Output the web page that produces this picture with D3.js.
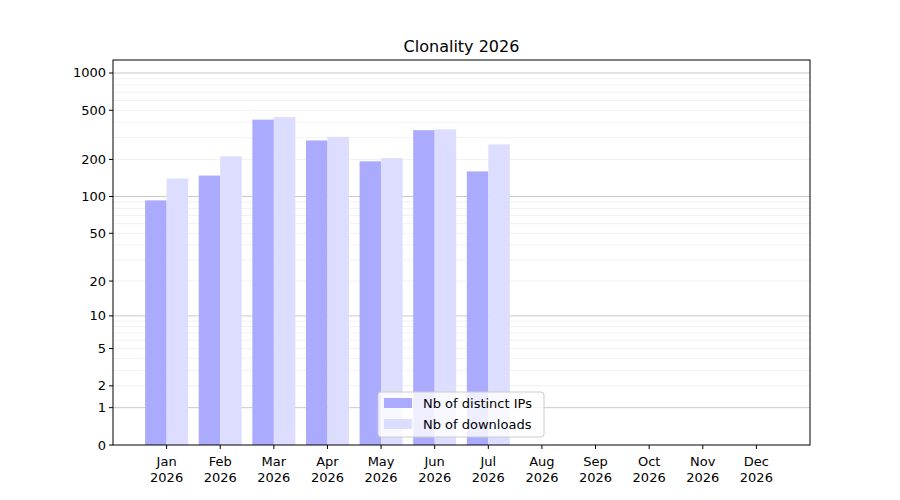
<!DOCTYPE html><html><head><meta charset="utf-8"><script src="https://cdn.jsdelivr.net/npm/d3@7"></script>
<style>body{margin:0;background:#fff}text{font-family:"DejaVu Sans",sans-serif}</style></head><body><svg id="c" width="900" height="500"></svg>
<script>
const months=["Jan","Feb","Mar","Apr","May","Jun","Jul","Aug","Sep","Oct","Nov","Dec"];
const year="2026";
const ips=[93,148,420,285,193,345,160];
const downloads=[140,212,440,305,205,350,265];
const yTicks=[0,1,2,5,10,20,50,100,200,500,1000];
const svg=d3.select("#c");
const L=113,R=810,T=60,B=445;
const x=d3.scaleLinear().domain([-1,12]).range([L,R]);
const f=v=>Math.log10(v+1);
const ys=d3.scaleLinear().domain([0,f(1273)]).range([B,T]);
const y=v=>ys(f(v));
// grid
const minor=[];for(let d=1;d<=1000;d*=10)for(let k=1;k<10;k++){const v=d*k;if(v<=1273)minor.push(v);}
const g=svg.append("g");
minor.forEach(v=>g.append("line").attr("x1",L).attr("x2",R).attr("y1",y(v)).attr("y2",y(v)).attr("stroke",[1,10,100,1000].includes(v)?"#bbb":"#eee").attr("stroke-width",0.8));
const bw=21.5;
svg.append("g").selectAll("rect").data(ips).join("rect").attr("x",(d,i)=>x(i)-bw).attr("width",bw).attr("y",d=>y(d)).attr("height",d=>B-y(d)).attr("fill","#aaaaff");
svg.append("g").selectAll("rect").data(downloads).join("rect").attr("x",(d,i)=>x(i)).attr("width",bw).attr("y",d=>y(d)).attr("height",d=>B-y(d)).attr("fill","#ddddff");
svg.append("rect").attr("x",L).attr("y",T).attr("width",R-L).attr("height",B-T).attr("fill","none").attr("stroke","#000").attr("stroke-width",1);
// y ticks
yTicks.forEach(v=>{const yy=y(v);svg.append("line").attr("x1",L-4).attr("x2",L).attr("y1",yy).attr("y2",yy).attr("stroke","#000");
svg.append("text").attr("x",L-7).attr("y",yy+4.5).attr("text-anchor","end").attr("font-size",13).text(v);});
months.forEach((m,i)=>{const xx=x(i);svg.append("line").attr("x1",xx).attr("x2",xx).attr("y1",B).attr("y2",B+4).attr("stroke","#000");
svg.append("text").attr("x",xx).attr("y",466).attr("text-anchor","middle").attr("font-size",13).text(m);
svg.append("text").attr("x",xx).attr("y",482).attr("text-anchor","middle").attr("font-size",13).text(year);});
svg.append("text").attr("x",(L+R)/2).attr("y",52).attr("text-anchor","middle").attr("font-size",16).text("Clonality 2026");
// legend
const lg=svg.append("g");
lg.append("rect").attr("x",378).attr("y",392).attr("width",166).attr("height",45).attr("rx",3).attr("fill","#fff").attr("fill-opacity",0.8).attr("stroke","#ccc");
[["Nb of distinct IPs","#aaaaff"],["Nb of downloads","#ddddff"]].forEach((d,i)=>{
lg.append("rect").attr("x",384).attr("y",398+i*21).attr("width",28).attr("height",10).attr("fill",d[1]);
lg.append("text").attr("x",423).attr("y",408+i*21).attr("font-size",13).text(d[0]);});
</script></body></html>
